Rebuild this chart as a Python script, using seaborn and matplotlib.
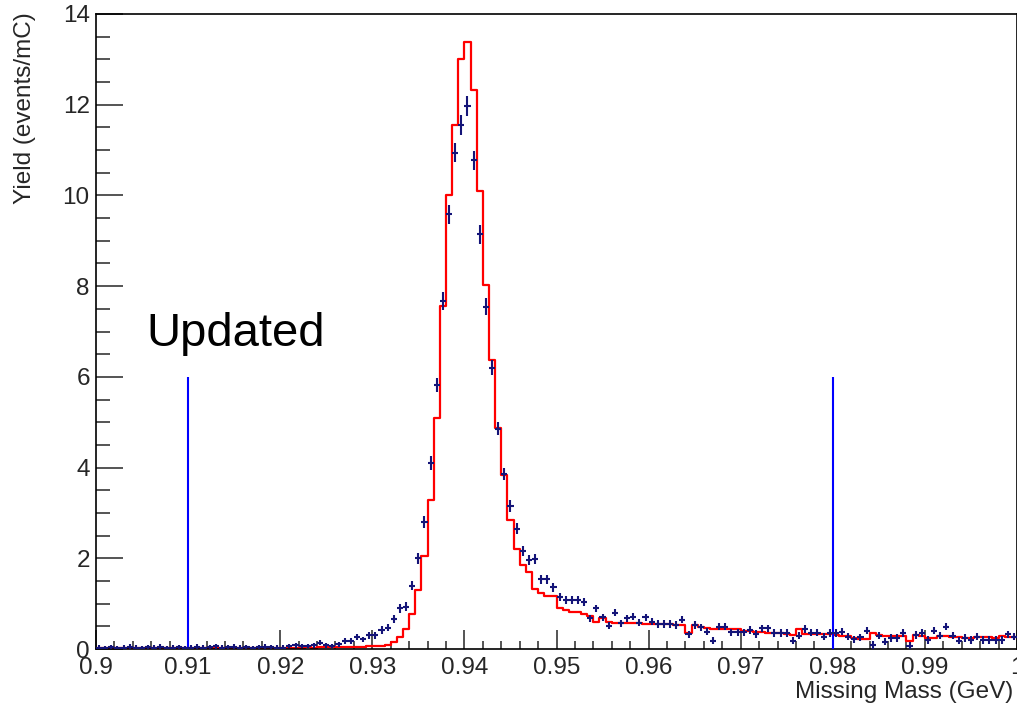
import numpy as np
import pandas as pd
import matplotlib
matplotlib.use("Agg")
import matplotlib.pyplot as plt
import seaborn as sns
from matplotlib.ticker import MultipleLocator, FixedLocator, FixedFormatter

# ---------------- data ----------------
x_min, x_max, n_bins = 0.9, 1.0, 150

# red histogram (simulation), 150 bins from 0.9 to 1.0 GeV
model = [
    0.02, 0.02, 0.02, 0.02, 0.02, 0.02, 0.02, 0.02, 0.02, 0.02,
    0.02, 0.02, 0.02, 0.02, 0.02, 0.02, 0.02, 0.02, 0.02, 0.02,
    0.02, 0.02, 0.02, 0.02, 0.02, 0.02, 0.02, 0.03, 0.02, 0.03,
    0.03, 0.03, 0.03, 0.03, 0.04, 0.03, 0.04, 0.04, 0.04, 0.05,
    0.04, 0.05, 0.05, 0.05, 0.06, 0.06, 0.07, 0.08, 0.16, 0.26,
    0.44, 0.77, 1.30, 2.05, 3.28, 5.09, 7.56, 10.00, 11.55, 13.00,
    13.38, 12.32, 10.10, 8.02, 6.37, 4.87, 3.84, 2.84, 2.21, 1.85,
    1.69, 1.33, 1.24, 1.17, 1.17, 0.91, 0.86, 0.82, 0.82, 0.77,
    0.72, 0.60, 0.68, 0.60, 0.57, 0.57, 0.58, 0.58, 0.57, 0.56,
    0.55, 0.55, 0.55, 0.55, 0.54, 0.53, 0.36, 0.52, 0.48, 0.47,
    0.45, 0.45, 0.44, 0.43, 0.43, 0.40, 0.40, 0.38, 0.38, 0.36,
    0.35, 0.35, 0.34, 0.30, 0.44, 0.33, 0.32, 0.32, 0.32, 0.33,
    0.30, 0.29, 0.28, 0.25, 0.21, 0.22, 0.36, 0.30, 0.29, 0.29,
    0.28, 0.28, 0.18, 0.30, 0.28, 0.24, 0.25, 0.28, 0.28, 0.27,
    0.26, 0.24, 0.25, 0.26, 0.26, 0.26, 0.25, 0.28, 0.26, 0.27,
]

# blue points (data)
data = [
    0.03, 0.02, 0.04, 0.02, 0.03, 0.05, 0.03, 0.02, 0.04, 0.03,
    0.05, 0.02, 0.03, 0.04, 0.02, 0.03, 0.05, 0.03, 0.04, 0.06,
    0.03, 0.04, 0.05, 0.03, 0.04, 0.02, 0.04, 0.05, 0.04, 0.03,
    0.03, 0.07, 0.08, 0.07, 0.07, 0.08, 0.14, 0.08, 0.07, 0.10,
    0.18, 0.18, 0.26, 0.21, 0.30, 0.30, 0.42, 0.47, 0.67, 0.90,
    0.93, 1.40, 2.00, 2.80, 4.10, 5.82, 7.67, 9.58, 10.94, 11.55,
    11.98, 10.78, 9.14, 7.55, 6.20, 4.86, 3.86, 3.15, 2.65, 2.15,
    1.97, 1.98, 1.54, 1.54, 1.36, 1.15, 1.08, 1.08, 1.08, 1.04,
    0.68, 0.90, 0.70, 0.51, 0.80, 0.57, 0.68, 0.71, 0.58, 0.70,
    0.60, 0.55, 0.55, 0.55, 0.53, 0.65, 0.32, 0.53, 0.48, 0.38,
    0.18, 0.49, 0.49, 0.37, 0.37, 0.37, 0.42, 0.33, 0.46, 0.46,
    0.35, 0.35, 0.35, 0.18, 0.29, 0.44, 0.36, 0.36, 0.27, 0.35,
    0.35, 0.38, 0.27, 0.21, 0.26, 0.40, 0.09, 0.29, 0.16, 0.24,
    0.24, 0.35, 0.07, 0.31, 0.35, 0.20, 0.40, 0.29, 0.49, 0.29,
    0.18, 0.24, 0.20, 0.27, 0.20, 0.20, 0.20, 0.20, 0.32, 0.27,
]

# vertical error of the data points
data_err = [
    0.05, 0.05, 0.05, 0.05, 0.05, 0.05, 0.05, 0.05, 0.05, 0.05,
    0.05, 0.05, 0.05, 0.05, 0.05, 0.05, 0.05, 0.05, 0.05, 0.05,
    0.05, 0.05, 0.05, 0.05, 0.05, 0.05, 0.05, 0.05, 0.05, 0.05,
    0.05, 0.05, 0.05, 0.05, 0.05, 0.05, 0.05, 0.05, 0.05, 0.05,
    0.06, 0.06, 0.07, 0.06, 0.07, 0.07, 0.08, 0.08, 0.09, 0.10,
    0.10, 0.11, 0.12, 0.14, 0.15, 0.16, 0.19, 0.20, 0.21, 0.22,
    0.22, 0.21, 0.20, 0.18, 0.17, 0.15, 0.14, 0.13, 0.12, 0.11,
    0.11, 0.11, 0.10, 0.10, 0.10, 0.09, 0.09, 0.09, 0.09, 0.09,
    0.08, 0.08, 0.08, 0.08, 0.08, 0.08, 0.08, 0.08, 0.08, 0.08,
    0.08, 0.08, 0.08, 0.08, 0.08, 0.08, 0.08, 0.08, 0.08, 0.08,
    0.08, 0.08, 0.08, 0.08, 0.08, 0.08, 0.08, 0.08, 0.08, 0.08,
    0.08, 0.08, 0.08, 0.08, 0.08, 0.08, 0.08, 0.08, 0.08, 0.08,
    0.08, 0.08, 0.08, 0.08, 0.08, 0.08, 0.08, 0.08, 0.08, 0.08,
    0.08, 0.08, 0.08, 0.08, 0.08, 0.08, 0.08, 0.08, 0.08, 0.08,
    0.08, 0.08, 0.08, 0.08, 0.08, 0.08, 0.08, 0.08, 0.08, 0.08,
]

cut_lines = [0.91, 0.98]
cut_top = 6

x_ticks = [0.90, 0.91, 0.92, 0.93, 0.94, 0.95, 0.96, 0.97, 0.98, 0.99, 1.00]
x_tick_labels = ["0.9", "0.91", "0.92", "0.93", "0.94", "0.95", "0.96",
                 "0.97", "0.98", "0.99", "1"]
y_ticks = [0, 2, 4, 6, 8, 10, 12, 14]
y_tick_labels = ["0", "2", "4", "6", "8", "10", "12", "14"]

x_title = "Missing Mass (GeV)"
y_title = "Yield (events/mC)"
note = "Updated"

# ---------------- figure ----------------
sns.set_style("ticks")
plt.rcParams['font.family'] = ['Liberation Sans', 'DejaVu Sans']

W, H = 1017, 712
fig = plt.figure(figsize=(W / 100, H / 100), dpi=100)
ax = fig.add_axes([96 / W, 63 / H, 921 / W, 635 / H])

edges = np.linspace(x_min, x_max, n_bins + 1)
centers = 0.5 * (edges[:-1] + edges[1:])
half_w = (edges[1] - edges[0]) / 2

df = pd.DataFrame({"mass": centers, "yield": model})
sns.histplot(data=df, x="mass", weights="yield", bins=n_bins,
             binrange=(x_min, x_max), element="step", fill=False,
             color="#ff0000", linewidth=1.6, ax=ax)

ax.errorbar(centers, data, yerr=data_err, xerr=half_w, fmt='none',
            ecolor='#141478', elinewidth=1.5, capsize=0, zorder=4)

ax.vlines(cut_lines, 0, cut_top, colors='#0000ff', linewidth=1.5, zorder=3)

ax.text(0.9055, 6.68, note, fontsize=34, ha='left', va='baseline', color='black')

ax.set_xlim(x_min, x_max)
ax.set_ylim(0, 14)
ax.set_xlabel("")
ax.set_ylabel("")

ax.xaxis.set_major_locator(FixedLocator(x_ticks))
ax.xaxis.set_major_formatter(FixedFormatter(x_tick_labels))
ax.xaxis.set_minor_locator(MultipleLocator(0.002))
ax.yaxis.set_major_locator(FixedLocator(y_ticks))
ax.yaxis.set_major_formatter(FixedFormatter(y_tick_labels))
ax.yaxis.set_minor_locator(MultipleLocator(0.5))

ax.tick_params(axis='x', which='major', direction='in', length=13.5, width=1.1,
               labelsize=17.5, pad=5.5, top=False)
ax.tick_params(axis='x', which='minor', direction='in', length=6, width=1.1, top=False)
ax.tick_params(axis='y', which='major', direction='in', length=19.5, width=1.1,
               labelsize=17.5, pad=4.5, right=False)
ax.tick_params(axis='y', which='minor', direction='in', length=10, width=1.1, right=False)

for s in ax.spines.values():
    s.set_linewidth(1.2)
    s.set_color('black')
    s.set_visible(True)

fig.text(1013 / W, 1 - 692 / H, x_title, ha='right', va='center', fontsize=17.5)
fig.text(25 / W, 1 - 12 / H, y_title, ha='center', va='top', rotation=90, fontsize=17.5)

fig.savefig("out.png", dpi=100, facecolor='white')
